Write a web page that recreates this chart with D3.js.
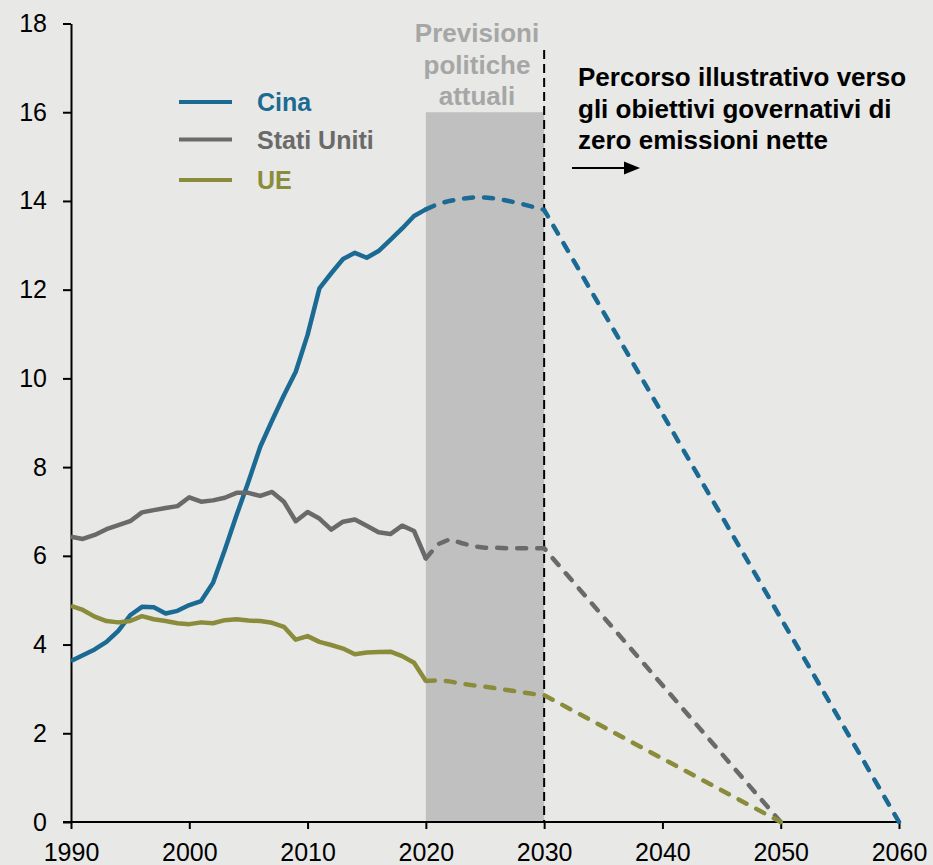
<!DOCTYPE html>
<html>
<head>
<meta charset="utf-8">
<script src="https://cdn.jsdelivr.net/npm/d3@7"></script>
<style>
  html, body { margin: 0; padding: 0; background: #e8e8e6; }
  svg { display: block; font-family: "Liberation Sans", Arial, sans-serif; }
</style>
</head>
<body>
<svg id="chart" width="933" height="865"></svg>
<script>
// Annual CO2 emissions (Gt) — historical 1990–2020
const histYears = d3.range(1990, 2021);
const cinaHist = [3.63, 3.76, 3.89, 4.06, 4.31, 4.66, 4.85, 4.84, 4.70, 4.76,
  4.89, 4.98, 5.39, 6.13, 6.92, 7.67, 8.46, 9.05, 9.62, 10.15,
  10.98, 12.03, 12.37, 12.69, 12.83, 12.72, 12.87, 13.12, 13.38, 13.66, 13.81];
const usaHist = [6.43, 6.38, 6.47, 6.60, 6.69, 6.78, 6.98, 7.03, 7.08, 7.12,
  7.32, 7.22, 7.25, 7.31, 7.42, 7.42, 7.35, 7.44, 7.22, 6.78,
  6.99, 6.84, 6.59, 6.77, 6.82, 6.68, 6.53, 6.49, 6.68, 6.56, 5.94];
const ueHist = [4.87, 4.78, 4.63, 4.53, 4.50, 4.53, 4.64, 4.57, 4.53, 4.48,
  4.46, 4.50, 4.48, 4.55, 4.57, 4.54, 4.53, 4.49, 4.40, 4.11,
  4.19, 4.06, 3.99, 3.91, 3.78, 3.82, 3.83, 3.84, 3.74, 3.59, 3.18];

// Projections under current policies (2020–2030), then path to net zero
const projYears = d3.range(2020, 2031);
const cinaProj = [13.81, 13.93, 14.00, 14.05, 14.08, 14.08, 14.05, 14.00, 13.94, 13.87, 13.80];
const usaProj = [5.94, 6.26, 6.37, 6.29, 6.22, 6.18, 6.18, 6.17, 6.17, 6.17, 6.17];
const ueProj = [3.18, 3.19, 3.17, 3.12, 3.08, 3.05, 3.01, 2.97, 2.93, 2.89, 2.86];
const netZeroYear = { cina: 2060, usa: 2050, ue: 2050 };

const xTicks = [1990, 2000, 2010, 2020, 2030, 2040, 2050, 2060];
const yTicks = [0, 2, 4, 6, 8, 10, 12, 14, 16, 18];

const seriesNames = ["Cina", "Stati Uniti", "UE"];
const colors = { cina: "#1b6a93", usa: "#6a6a6a", ue: "#8a8c3c" };

const svg = d3.select("#chart");
const x = d3.scaleLinear().domain([1990, 2060]).range([71, 899]);
const y = d3.scaleLinear().domain([0, 18]).range([822, 23.5]);

// Current-policy band 2020–2030
svg.append("rect")
  .attr("x", x(2020)).attr("width", x(2030) - x(2020))
  .attr("y", y(16)).attr("height", y(0) - y(16))
  .attr("fill", "#c0c0c0");

// Axes
const yAxis = svg.append("g")
  .attr("transform", `translate(${x(1990)},0)`)
  .call(d3.axisLeft(y).tickValues(yTicks).tickSize(8).tickPadding(16).tickSizeOuter(0));
const xAxis = svg.append("g")
  .attr("transform", `translate(0,${y(0)})`)
  .call(d3.axisBottom(x).tickValues(xTicks).tickFormat(d3.format("d")).tickSize(7).tickPadding(14).tickSizeOuter(0));
[yAxis, xAxis].forEach(g => {
  g.select(".domain").attr("stroke", "#000").attr("stroke-width", 2);
  g.selectAll(".tick line").attr("stroke", "#000").attr("stroke-width", 2);
  g.selectAll(".tick text").attr("fill", "#000").attr("font-size", 25)
    .attr("font-family", "'Liberation Sans', Arial, sans-serif");
});
// extend the x axis line left to meet the zero tick
xAxis.select(".domain").attr("d", `M${x(1990) - 8},0H${x(2060)}`);

// 2030 divider
svg.append("line")
  .attr("x1", x(2030)).attr("x2", x(2030))
  .attr("y1", 50).attr("y2", y(0))
  .attr("stroke", "#000").attr("stroke-width", 2)
  .attr("stroke-dasharray", "9,5");

const line = d3.line().x(d => x(d[0])).y(d => y(d[1]));

const series = [
  { key: "cina", hist: cinaHist, proj: cinaProj },
  { key: "usa", hist: usaHist, proj: usaProj },
  { key: "ue", hist: ueHist, proj: ueProj }
];

series.forEach(s => {
  const histPts = histYears.map((yr, i) => [yr, s.hist[i]]);
  const projPts = projYears.map((yr, i) => [yr, s.proj[i]]);
  projPts.push([netZeroYear[s.key], 0]);

  svg.append("path")
    .datum(projPts)
    .attr("d", line)
    .attr("fill", "none")
    .attr("stroke", colors[s.key])
    .attr("stroke-width", 4.5)
    .attr("stroke-linecap", "round")
    .attr("stroke-dasharray", "9,11");

  svg.append("path")
    .datum(histPts)
    .attr("d", line)
    .attr("fill", "none")
    .attr("stroke", colors[s.key])
    .attr("stroke-width", 4.5)
    .attr("stroke-linejoin", "round");
});

// Legend
const legend = svg.append("g");
const legendKeys = ["cina", "usa", "ue"];
const legendY = [102, 139.5, 180];
legendKeys.forEach((k, i) => {
  legend.append("line")
    .attr("x1", 179).attr("x2", 232)
    .attr("y1", legendY[i]).attr("y2", legendY[i])
    .attr("stroke", colors[k]).attr("stroke-width", 4);
  legend.append("text")
    .attr("x", 257).attr("y", legendY[i] + 9)
    .attr("fill", colors[k])
    .attr("font-size", 25).attr("font-weight", "bold")
    .text(seriesNames[i]);
});

// Band label
const bandLabel = ["Previsioni", "politiche", "attuali"];
svg.append("text")
  .attr("text-anchor", "middle")
  .attr("fill", "#a6a6a6")
  .attr("font-size", 26).attr("font-weight", "bold")
  .selectAll("tspan")
  .data(bandLabel)
  .join("tspan")
  .attr("x", 477)
  .attr("y", (d, i) => 42 + i * 31.5)
  .text(d => d);

// Net-zero annotation
const noteLines = ["Percorso illustrativo verso", "gli obiettivi governativi di", "zero emissioni nette"];
svg.append("text")
  .attr("fill", "#000")
  .attr("font-size", 26).attr("font-weight", "bold")
  .selectAll("tspan")
  .data(noteLines)
  .join("tspan")
  .attr("x", 578)
  .attr("y", (d, i) => 86 + i * 31.5)
  .text(d => d);

// Arrow
svg.append("line")
  .attr("x1", 572).attr("x2", 628)
  .attr("y1", 168).attr("y2", 168)
  .attr("stroke", "#000").attr("stroke-width", 2);
svg.append("path")
  .attr("d", "M624,161.5L640,168L624,174.5Z")
  .attr("fill", "#000");
</script>
</body>
</html>
